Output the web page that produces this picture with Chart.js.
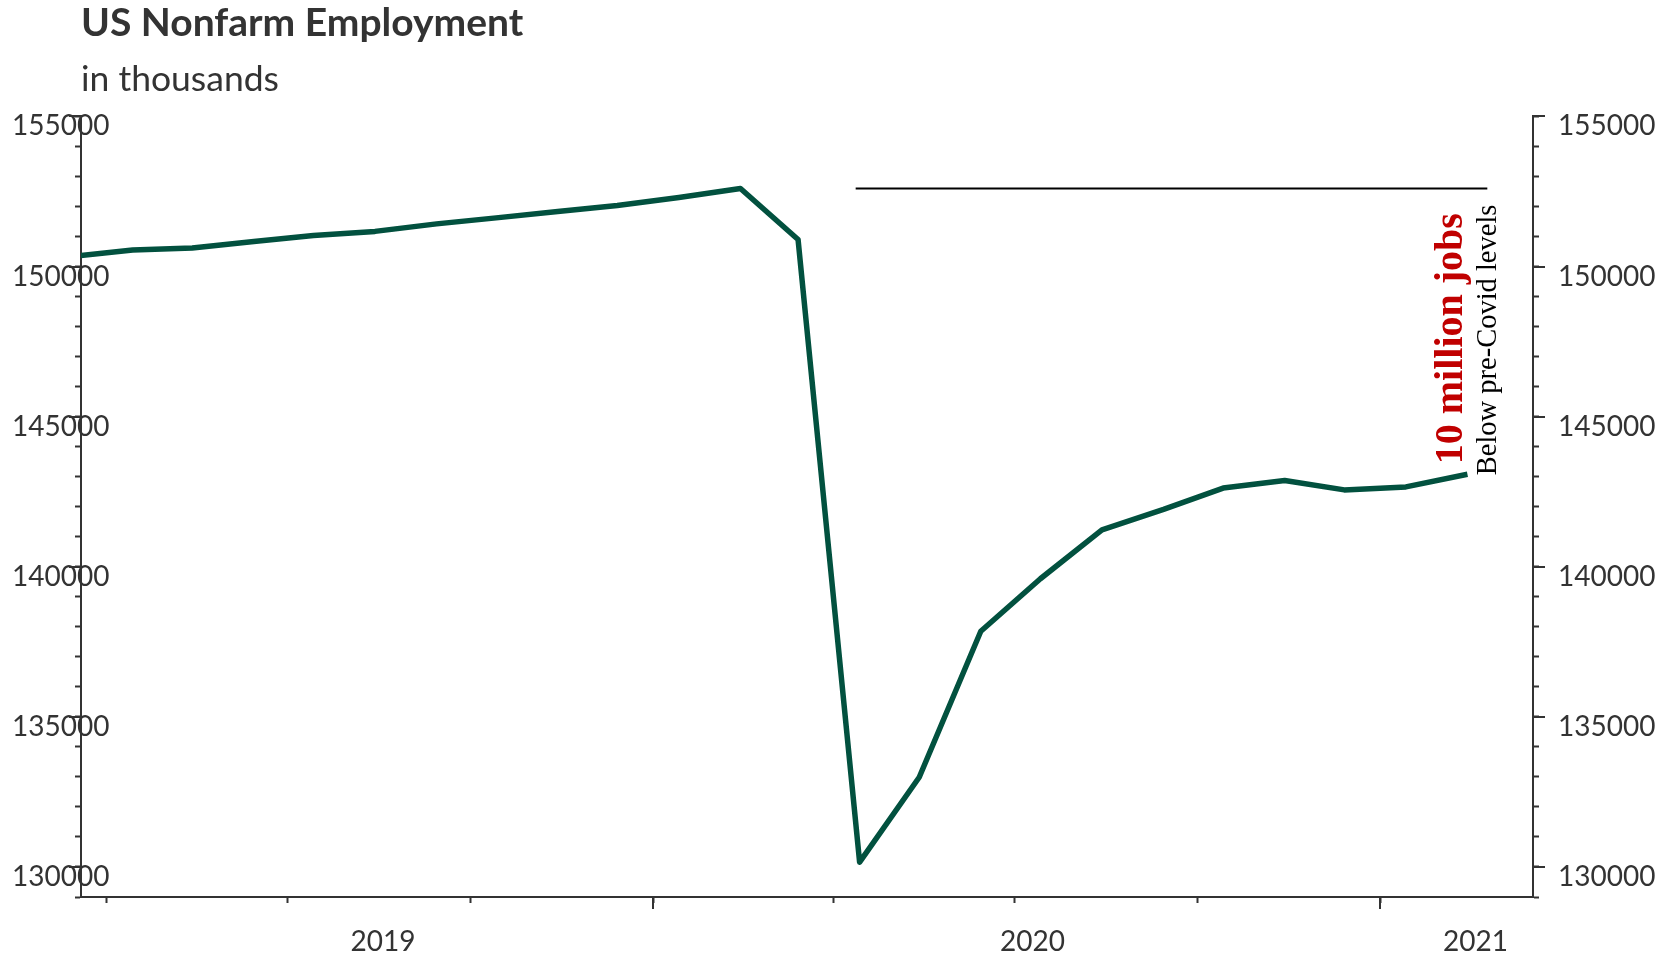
<!DOCTYPE html>
<html>
<head>
<meta charset="utf-8">
<title>US Nonfarm Employment</title>
<script src="https://cdn.jsdelivr.net/npm/chart.js@4.4.1/dist/chart.umd.min.js"></script>
<style>
  html, body { margin: 0; padding: 0; background: #fff; }
  canvas { display: block; }
</style>
</head>
<body>
<canvas id="jobsChart" width="1671" height="956"></canvas>
<script>
// monthly payrolls, thousands of jobs
const months = [
  "2019-03", "2019-04", "2019-05", "2019-06", "2019-07", "2019-08",
  "2019-09", "2019-10", "2019-11", "2019-12", "2020-01", "2020-02",
  "2020-03", "2020-04", "2020-05", "2020-06", "2020-07", "2020-08",
  "2020-09", "2020-10", "2020-11", "2020-12", "2021-01", "2021-02"
];
const employment = [
  150330, 150550, 150615, 150830, 151030, 151170,
  151420, 151620, 151830, 152030, 152300, 152600,
  150900, 130160, 132990, 137850, 139600, 141230,
  141910, 142620, 142870, 142560, 142660, 143080
];

const quarterTicks = [
  "2019-04-01", "2019-07-01", "2019-10-01", "2020-01-01",
  "2020-04-01", "2020-07-01", "2020-10-01", "2021-01-01"
];
const yearLabels = ["2019", "2020", "2021"];
const yearLabelDates = ["2019-08-18", "2020-07-10", "2021-02-18"];
const xRange = ["2019-03-19", "2021-03-19"];

const yMin = 129000;
const yMax = 155000;
const yStep = 1000;
const yLabelEvery = 5000;

const noteTitle = "10 million jobs";
const noteText = "Below pre-Covid levels";
const levelSpan = ["2020-04-12", "2021-02-24"];

// days since 1 Jan 2019, used as the x unit
const base = Date.UTC(2019, 0, 1);
function day(s) {
  const [y, m, d] = s.split("-").map(Number);
  return (Date.UTC(y, m - 1, d || 1) - base) / 864e5;
}

const points = months.map((m, i) => ({ x: day(m + "-14"), y: employment[i] }));
const peak = Math.max(...employment);
const levelLine = levelSpan.map(d => ({ x: day(d), y: peak }));

const tickValues = quarterTicks.map(day);
const labelValues = yearLabelDates.map(day);
const yearStarts = quarterTicks.filter(d => d.endsWith("-01-01")).map(day);

const ink = "#333333";
const axisFont = { family: "Lato", size: 28 };

function yLabel(v) {
  return v % yLabelEvery === 0 ? String(v) : "";
}

// longer tick marks at the labelled values and at each new year
const longTicks = {
  id: "longTicks",
  afterDraw(chart) {
    const { ctx, chartArea, scales } = chart;
    ctx.save();
    ctx.strokeStyle = ink;
    ctx.lineWidth = 2;
    ctx.beginPath();
    scales.y.ticks.forEach(t => {
      if (t.value % yLabelEvery !== 0) return;
      const py = Math.round(scales.y.getPixelForValue(t.value));
      ctx.moveTo(chartArea.left - 12, py);
      ctx.lineTo(chartArea.left, py);
      ctx.moveTo(chartArea.right, py);
      ctx.lineTo(chartArea.right + 12, py);
    });
    yearStarts.forEach(v => {
      const px = Math.round(scales.x.getPixelForValue(v));
      ctx.moveTo(px, chartArea.bottom);
      ctx.lineTo(px, chartArea.bottom + 12);
    });
    ctx.stroke();
    ctx.restore();
  }
};

// rotated note beside the last reading
const sideNote = {
  id: "sideNote",
  afterDatasetsDraw(chart) {
    const meta = chart.getDatasetMeta(0);
    const last = meta.data[meta.data.length - 1];
    const { ctx } = chart;
    ctx.save();
    ctx.textAlign = "left";
    ctx.textBaseline = "alphabetic";

    ctx.save();
    ctx.translate(last.x - 5, last.y - 10);
    ctx.rotate(-Math.PI / 2);
    ctx.fillStyle = "#c00000";
    ctx.font = "bold 40px 'Liberation Serif', 'Times New Roman', serif";
    ctx.fillText(noteTitle, 0, 0);
    ctx.restore();

    ctx.save();
    ctx.translate(last.x + 29, last.y + 1);
    ctx.rotate(-Math.PI / 2);
    ctx.fillStyle = "#000";
    ctx.font = "28.5px 'Liberation Serif', 'Times New Roman', serif";
    ctx.fillText(noteText, 0, 0);
    ctx.restore();

    ctx.restore();
  }
};

// left labels sit across the axis line, so they are mirrored into place
function yAxis(position, width, tickOpts) {
  return {
    type: "linear",
    position: position,
    min: yMin,
    max: yMax,
    afterFit: s => { s.width = width; },
    ticks: Object.assign({
      stepSize: yStep,
      autoSkip: false,
      callback: yLabel,
      labelOffset: 10,
      color: ink,
      font: axisFont
    }, tickOpts),
    grid: {
      drawOnChartArea: false,
      tickLength: 6,
      tickWidth: 2,
      tickColor: ink
    },
    border: { color: ink, width: 2 }
  };
}

function draw() {
  new Chart(document.getElementById("jobsChart"), {
    type: "line",
    data: {
      datasets: [
        {
          data: points,
          borderColor: "#02513f",
          borderWidth: 5.5,
          borderJoinStyle: "round",
          pointRadius: 0,
          tension: 0
        },
        {
          data: levelLine,
          borderColor: "#000",
          borderWidth: 2,
          pointRadius: 0
        }
      ]
    },
    options: {
      responsive: false,
      animation: false,
      devicePixelRatio: 1,
      layout: { padding: 0 },
      plugins: {
        legend: { display: false },
        tooltip: { enabled: false },
        title: {
          display: true,
          text: "US Nonfarm Employment",
          align: "start",
          fullSize: false,
          color: ink,
          font: { family: "Lato", size: 39, weight: "bold" },
          padding: { top: 0, bottom: 0 }
        },
        subtitle: {
          display: true,
          text: "in thousands",
          align: "start",
          fullSize: false,
          color: ink,
          font: { family: "Lato", size: 35.5 },
          padding: { top: 11, bottom: 16 }
        }
      },
      scales: {
        x: {
          type: "linear",
          position: "bottom",
          min: day(xRange[0]),
          max: day(xRange[1]),
          afterFit: s => { s.height = 59; },
          afterBuildTicks: s => {
            s.ticks = tickValues.concat(labelValues)
              .sort((a, b) => a - b)
              .map(v => ({ value: v }));
          },
          ticks: {
            autoSkip: false,
            maxRotation: 0,
            padding: 22,
            color: ink,
            font: axisFont,
            callback: v => {
              const i = labelValues.indexOf(v);
              return i >= 0 ? yearLabels[i] : "";
            }
          },
          grid: {
            drawOnChartArea: false,
            tickLength: 6,
            tickWidth: 2,
            tickColor: c => (c.tick && labelValues.includes(c.tick.value)) ? "rgba(0,0,0,0)" : ink
          },
          border: { color: ink, width: 2 }
        },
        y: yAxis("left", 81, { mirror: true, crossAlign: "near", padding: -69 }),
        y2: yAxis("right", 138, { padding: 19 })
      }
    },
    plugins: [longTicks, sideNote]
  });
}

Promise.all([
  document.fonts.load("28px Lato"),
  document.fonts.load("bold 39px Lato"),
  document.fonts.load("28px 'Liberation Serif'"),
  document.fonts.load("bold 40px 'Liberation Serif'")
]).then(draw, draw);
</script>
</body>
</html>
